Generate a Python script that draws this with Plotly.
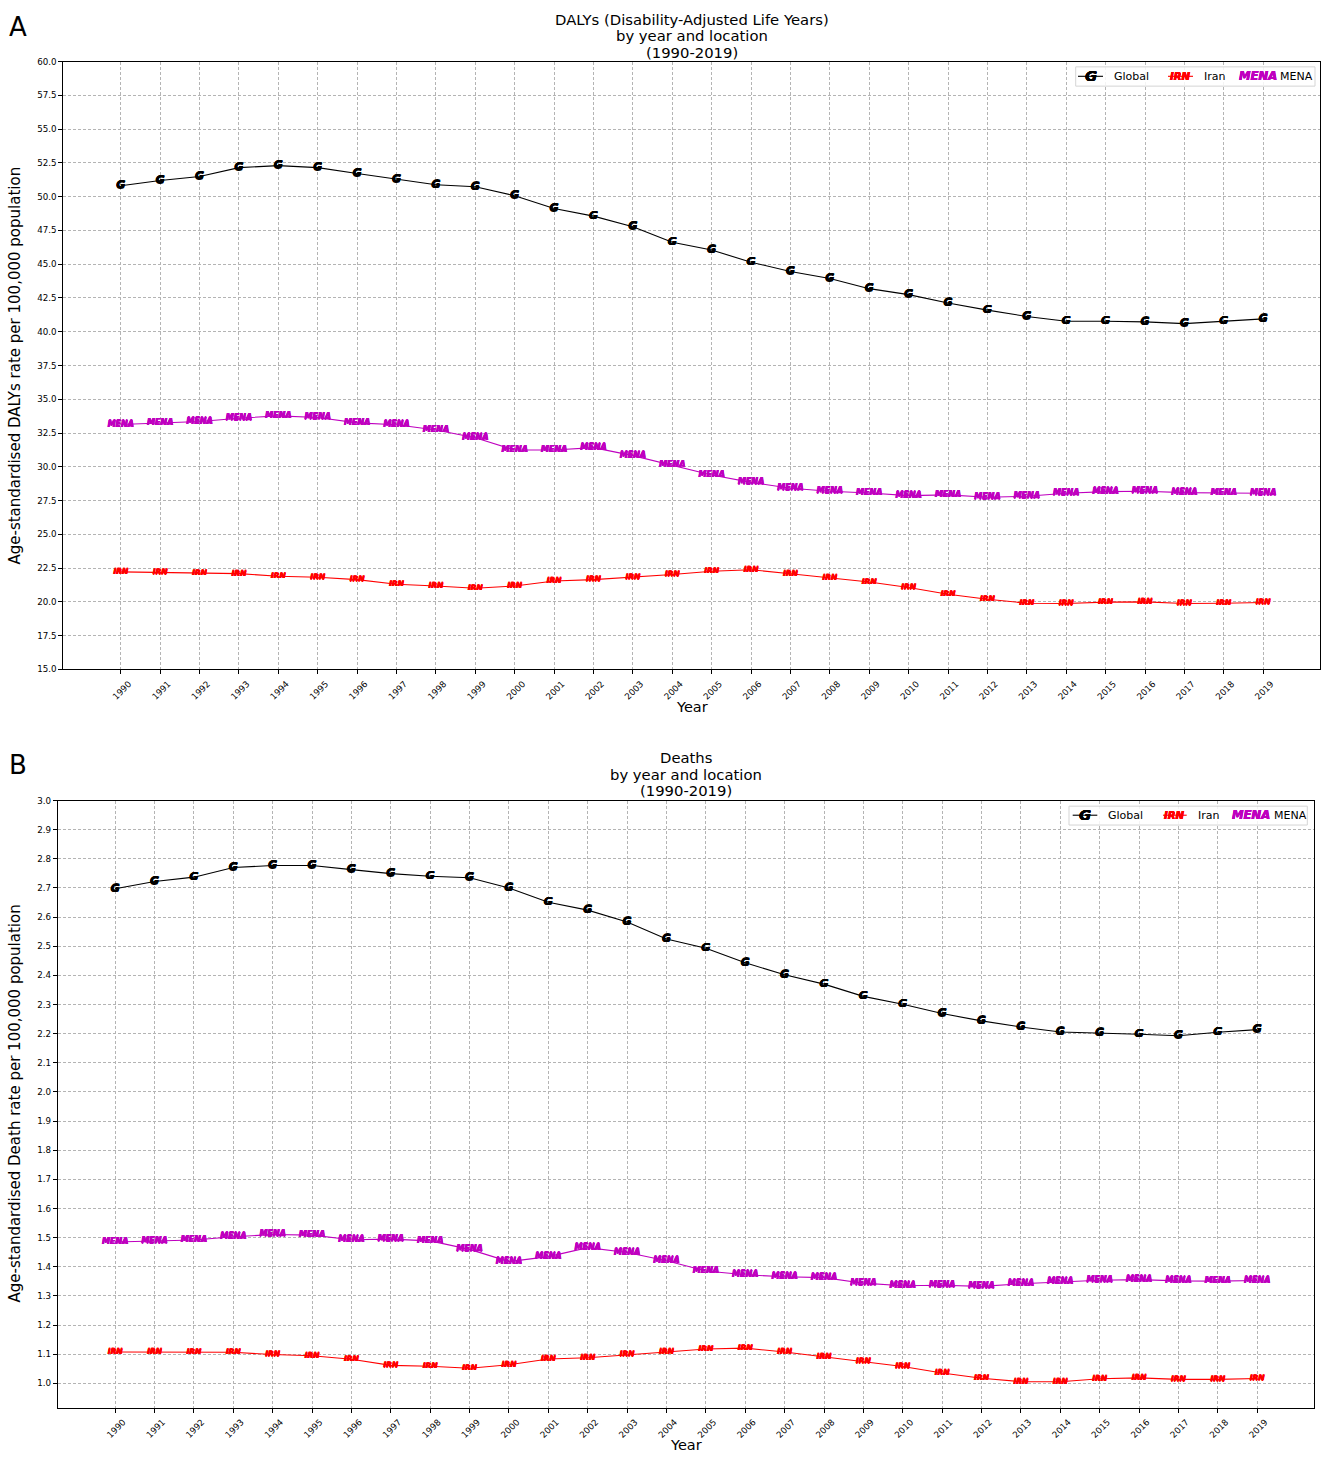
import plotly.graph_objects as go

years = list(range(1990, 2020))

dalys_global = [50.81, 51.20, 51.49, 52.15, 52.30, 52.15, 51.71, 51.27, 50.88, 50.73,
                50.07, 49.12, 48.56, 47.78, 46.62, 46.05, 45.15, 44.46, 43.94, 43.19,
                42.75, 42.13, 41.60, 41.13, 40.78, 40.78, 40.73, 40.60, 40.78, 40.95]
dalys_iran = [22.22, 22.17, 22.12, 22.09, 21.90, 21.82, 21.65, 21.31, 21.18, 21.01,
              21.18, 21.55, 21.65, 21.82, 22.03, 22.27, 22.38, 22.08, 21.79, 21.47,
              21.06, 20.57, 20.20, 19.90, 19.88, 19.98, 20.00, 19.88, 19.90, 19.95]
dalys_mena = [33.13, 33.25, 33.35, 33.60, 33.77, 33.65, 33.25, 33.11, 32.72, 32.15,
              31.24, 31.24, 31.42, 30.83, 30.13, 29.40, 28.85, 28.41, 28.19, 28.06,
              27.87, 27.92, 27.75, 27.82, 28.04, 28.16, 28.19, 28.09, 28.06, 28.04]

deaths_global = [2.697, 2.722, 2.737, 2.770, 2.777, 2.777, 2.763, 2.749, 2.740, 2.735,
                 2.700, 2.651, 2.624, 2.583, 2.525, 2.493, 2.443, 2.402, 2.370, 2.328,
                 2.301, 2.269, 2.244, 2.223, 2.206, 2.203, 2.198, 2.193, 2.205, 2.214]
deaths_iran = [1.108, 1.108, 1.107, 1.107, 1.099, 1.095, 1.083, 1.062, 1.059, 1.052,
               1.064, 1.084, 1.088, 1.099, 1.108, 1.118, 1.121, 1.108, 1.091, 1.075,
               1.058, 1.036, 1.018, 1.006, 1.006, 1.016, 1.019, 1.014, 1.014, 1.017]
deaths_mena = [1.485, 1.488, 1.492, 1.503, 1.511, 1.509, 1.493, 1.495, 1.489, 1.460,
               1.418, 1.435, 1.466, 1.449, 1.421, 1.386, 1.373, 1.366, 1.363, 1.344,
               1.335, 1.337, 1.333, 1.342, 1.349, 1.354, 1.356, 1.352, 1.351, 1.353]

locations = ["Global", "Iran", "MENA"]
marker_texts = ["G", "IRN", "MENA"]
colors = ["#000000", "#ff0000", "#bf00bf"]
marker_sizes = [11, 7.5, 8]

dalys_ticks = [15 + 2.5 * i for i in range(19)]
deaths_ticks = [round(1.0 + 0.1 * i, 1) for i in range(21)]

W, H = 1327, 1459
FONT = "DejaVu Sans"


def px(x):
    return x / W


def py(y):
    return 1 - y / H


def stroke(col, w=0.35):
    return f"{w}px 0 0 {col}, -{w}px 0 0 {col}, 0 {w}px 0 {col}, 0 -{w}px 0 {col}"


fig = go.Figure()

panels = [
    dict(xa="x", ya="y", series=[dalys_global, dalys_iran, dalys_mena]),
    dict(xa="x2", ya="y2", series=[deaths_global, deaths_iran, deaths_mena]),
]

for p in panels:
    for name, txt, col, vals, ms in zip(locations, marker_texts, colors, p["series"], marker_sizes):
        fig.add_trace(go.Scatter(
            x=years, y=vals, mode="lines+text", name=name,
            text=[txt] * len(years), textposition="middle center",
            textfont=dict(family=FONT, size=ms, color=col, weight="bold", style="italic",
                          shadow=stroke(col)),
            line=dict(color=col, width=1.1),
            xaxis=p["xa"], yaxis=p["ya"], showlegend=False,
        ))

grid = dict(showgrid=True, gridcolor="#b4b4b4", gridwidth=0.8, griddash="3px,2px")
axis_common = dict(showline=True, linecolor="black", linewidth=1, mirror=True,
                   ticks="outside", ticklen=4, tickcolor="black", zeroline=False,
                   tickfont=dict(family=FONT, size=8.7, color="black"), **grid)

fig.update_layout(
    width=W, height=H, autosize=False,
    margin=dict(l=0, r=0, t=0, b=0),
    paper_bgcolor="white", plot_bgcolor="white",
    showlegend=False,
    xaxis=dict(domain=[px(63.3), px(1320.3)], anchor="y", range=[1988.54, 2020.45],
               tickvals=years, ticktext=[str(y) for y in years], tickangle=-45,
               ticklabelshift=8, ticklabelstandoff=1, **axis_common),
    yaxis=dict(domain=[py(669), py(57)], anchor="x", range=[15, 60],
               tickvals=dalys_ticks, ticktext=[f"{v:.1f}" for v in dalys_ticks], **axis_common),
    xaxis2=dict(domain=[px(57.7), px(1314.3)], anchor="y2", range=[1988.54, 2020.45],
                tickvals=years, ticktext=[str(y) for y in years], tickangle=-45,
                ticklabelshift=8, ticklabelstandoff=1, **axis_common),
    yaxis2=dict(domain=[py(1412.3), py(801)], anchor="x2", range=[0.917, 3.0],
                tickvals=deaths_ticks, ticktext=[f"{v:.1f}" for v in deaths_ticks], **axis_common),
)

ann = []
shapes = []

title_a = ["DALYs (Disability-Adjusted Life Years)", "by year and location", "(1990-2019)"]
title_b = ["Deaths", "by year and location", "(1990-2019)"]
for lines, xc, ys in [(title_a, 691.8, [14.5, 31, 47.5]), (title_b, 686, [758, 774.5, 791])]:
    for t, yy in zip(lines, ys):
        ann.append(dict(x=px(xc), y=py(yy), xref="paper", yref="paper", xanchor="center",
                        yanchor="middle", text=t, showarrow=False,
                        font=dict(family=FONT, size=14.8, color="black")))

# panel letters
ann.append(dict(x=px(7), y=py(22), xref="paper", yref="paper", xanchor="left", yanchor="middle",
                text="A", showarrow=False, font=dict(family=FONT, size=26, color="black")))
ann.append(dict(x=px(7), y=py(765), xref="paper", yref="paper", xanchor="left", yanchor="middle",
                text="B", showarrow=False, font=dict(family=FONT, size=26, color="black")))
# axis titles
ann.append(dict(x=px(691.8), y=py(707), xref="paper", yref="paper", xanchor="center", yanchor="middle",
                text="Year", showarrow=False, font=dict(family=FONT, size=14.5, color="black")))
ann.append(dict(x=px(686), y=py(1450), xref="paper", yref="paper", xanchor="center", yanchor="middle",
                text="Year", showarrow=False, font=dict(family=FONT, size=14.5, color="black")))
ann.append(dict(x=px(15), y=py(363), xref="paper", yref="paper", xanchor="center", yanchor="middle",
                textangle=-90, text="Age-standardised DALYs rate per 100,000 population",
                showarrow=False, font=dict(family=FONT, size=15, color="black")))
ann.append(dict(x=px(15), y=py(1106), xref="paper", yref="paper", xanchor="center", yanchor="middle",
                textangle=-90, text="Age-standardised Death rate per 100,000 population",
                showarrow=False, font=dict(family=FONT, size=15, color="black")))

# custom legends
legends = [
    dict(box=(1075.7, 62.3, 1315, 81.7), yc=71.8,
         items=[(1078, 1103, 1111.5), (1168, 1193, 1201.5), (1240, 1275, 1278)]),
    dict(box=(1069, 806.7, 1307.3, 825.7), yc=815.8,
         items=[(1072.7, 1097.3, 1105.5), (1163, 1186.7, 1195.5), (1234, 1268, 1271.7)]),
]
for lg in legends:
    x0, y0, x1, y1 = lg["box"]
    shapes.append(dict(type="rect", xref="paper", yref="paper", x0=px(x0), y0=py(y1), x1=px(x1), y1=py(y0),
                       line=dict(color="#d5d5d5", width=1), fillcolor="rgba(255,255,255,0.85)", layer="above"))
    for (lx0, lx1, tx), name, txt, col, ms in zip(lg["items"], locations, marker_texts, colors, marker_sizes):
        if txt != "MENA":
            shapes.append(dict(type="line", xref="paper", yref="paper", x0=px(lx0), x1=px(lx1),
                               y0=py(lg["yc"]), y1=py(lg["yc"]), line=dict(color=col, width=1.1), layer="above"))
        ann.append(dict(x=px((lx0 + lx1) / 2), y=py(lg["yc"]), xref="paper", yref="paper",
                        xanchor="center", yanchor="middle", text=txt, showarrow=False,
                        font=dict(family=FONT, size=ms * (1.35 if txt != "MENA" else 1.45), color=col,
                                  weight="bold", style="italic", shadow=stroke(col))))
        ann.append(dict(x=px(tx), y=py(lg["yc"]), xref="paper", yref="paper",
                        xanchor="left", yanchor="middle", text=name, showarrow=False,
                        font=dict(family=FONT, size=11, color="black")))

fig.update_layout(annotations=ann, shapes=shapes)

fig.write_html("out.html", config={"displayModeBar": False},
               post_script="document.body.style.margin='0';")
